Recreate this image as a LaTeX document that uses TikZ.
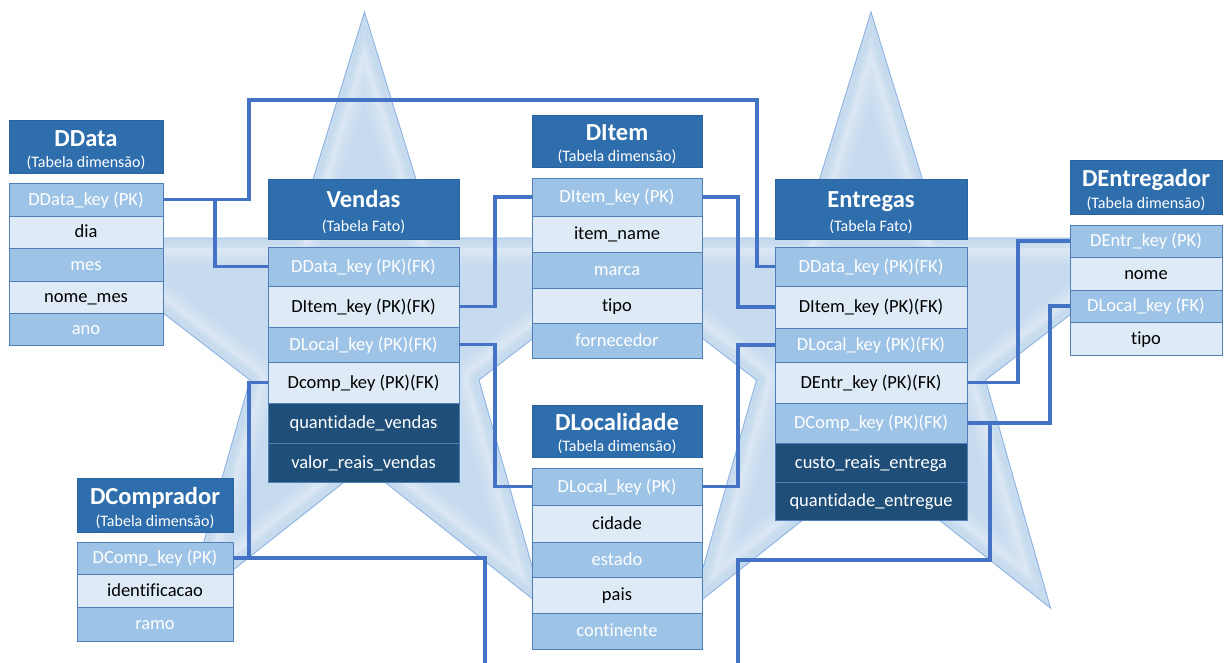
\documentclass[tikz,border=0pt]{standalone}
\usepackage{fontspec}
\setmainfont{Carlito}[Ligatures=NoCommon]
\definecolor{headblue}{HTML}{2E6EAC}
\definecolor{headedge}{HTML}{2A64A0}
\definecolor{midblue}{HTML}{9DC3E6}
\definecolor{paleblue}{HTML}{DEEBF7}
\definecolor{darkblue}{HTML}{1F4E79}
\definecolor{rowline}{HTML}{4F7FB6}
\definecolor{linkblue}{HTML}{4472C4}
\definecolor{starfill}{HTML}{C7DBEF}
\definecolor{staredge}{HTML}{8EB4E3}

% five-pointed star outline behind a fact table
\newcommand\starpath{(364.5,12) -- (434,238) -- (663,238) -- (479,380) -- (544,608)
  -- (364.5,466) -- (185,608) -- (250,380) -- (66,238) -- (295,238) -- cycle}

% table header: name, x1, y1, x2, y2, title, subtitle
\newcommand\tablehead[7]{%
  \node[headbox, minimum width={(#4-#2)*1pt}, minimum height={(#5-#3)*1pt}]
    (#1) at ({(#2+#4)/2},{(#3+#5)/2}) {};
  \node[titletxt, anchor=base] (#1-title) at ({(#2+#4)/2},{#3+0.35*(#5-#3)+7.7}) {#6};
  \node[subtxt, anchor=base] (#1-sub) at ({(#2+#4)/2},{#3+0.79*(#5-#3)+5.5}) {#7};
}
% table row: name, x1, x2, y1, y2, style, text
\newcommand\tablerow[7]{%
  \node[#6, minimum width={(#3-#2)*1pt}, minimum height={(#5-#4)*1pt}]
    (#1) at ({(#2+#3)/2},{(#4+#5)/2}) {#7};
}

\begin{document}
\begin{tikzpicture}[x=1pt,y=-1pt,
  every node/.style={inner sep=0pt, outer sep=0pt},
  headbox/.style={fill=headblue, draw=headedge, line width=0.8pt},
  titletxt/.style={text=white, font=\fontsize{24.5}{26}\selectfont\bfseries},
  subtxt/.style={text=white, font=\fontsize{16}{18}\selectfont},
  rowbase/.style={draw=rowline, line width=1pt, text height=14pt, text depth=3pt,
    font=\fontsize{18.5}{20}\selectfont},
  midrow/.style={rowbase, fill=midblue, text=white},
  palerow/.style={rowbase, fill=paleblue, text=black},
  darkrow/.style={rowbase, fill=darkblue, text=white},
  link/.style={draw=linkblue, line width=3.2pt, line join=miter},
]
\useasboundingbox (0,0) rectangle (1224,662);
\fill[white] (0,0) rectangle (1224,662);

% bevelled stars behind Vendas and Entregas: a soft pale band just inside the rim
\foreach \sx in {0,506.5} {
  \begin{scope}[xshift=\sx pt]
    \begin{scope}
      \clip \starpath;
      \fill[starfill] \starpath;
      \foreach \w/\o in {52/0.08, 44/0.10, 36/0.12, 30/0.12} {
        \draw[white, opacity=\o, line width=\w pt, line join=round] \starpath;
      }
      \draw[starfill, opacity=0.6, line width=20pt, line join=round] \starpath;
      \draw[starfill, line width=13pt, line join=round] \starpath;
    \end{scope}
    \draw[staredge, line width=0.9pt, line join=miter] \starpath;
  \end{scope}
}

% DData
\tablehead{ddata}{9}{120}{163}{173}{DData}{(Tabela dimensão)}
\tablerow{dd-1}{9}{163}{183}{216}{midrow}{DData\_key (PK)}
\tablerow{dd-2}{9}{163}{216}{248}{palerow}{dia}
\tablerow{dd-3}{9}{163}{248}{281}{midrow}{mes}
\tablerow{dd-4}{9}{163}{281}{313}{palerow}{nome\_mes}
\tablerow{dd-5}{9}{163}{313}{345}{midrow}{ano}

% Vendas
\tablehead{vendas}{268}{179}{459}{239}{Vendas}{(Tabela Fato)}
\tablerow{v-1}{268}{459}{247}{286}{midrow}{DData\_key (PK)(FK)}
\tablerow{v-2}{268}{459}{286}{327}{palerow}{DItem\_key (PK)(FK)}
\tablerow{v-3}{268}{459}{327}{362}{midrow}{DLocal\_key (PK)(FK)}
\tablerow{v-4}{268}{459}{362}{403}{palerow}{Dcomp\_key (PK)(FK)}
\tablerow{v-5}{268}{459}{403}{443}{darkrow}{quantidade\_vendas}
\tablerow{v-6}{268}{459}{443}{482}{darkrow}{valor\_reais\_vendas}

% DItem
\tablehead{ditem}{532}{115}{702}{167}{DItem}{(Tabela dimensão)}
\tablerow{di-1}{532}{702}{178}{216}{midrow}{DItem\_key (PK)}
\tablerow{di-2}{532}{702}{216}{252}{palerow}{item\_name}
\tablerow{di-3}{532}{702}{252}{288}{midrow}{marca}
\tablerow{di-4}{532}{702}{288}{323}{palerow}{tipo}
\tablerow{di-5}{532}{702}{323}{358}{midrow}{fornecedor}

% DLocalidade
\tablehead{dlocal}{532}{405}{702}{457}{DLocalidade}{(Tabela dimensão)}
\tablerow{dl-1}{532}{702}{468}{505}{midrow}{DLocal\_key (PK)}
\tablerow{dl-2}{532}{702}{505}{542}{palerow}{cidade}
\tablerow{dl-3}{532}{702}{542}{577}{midrow}{estado}
\tablerow{dl-4}{532}{702}{577}{613}{palerow}{pais}
\tablerow{dl-5}{532}{702}{613}{649}{midrow}{continente}

% Entregas
\tablehead{entregas}{775}{179}{967}{239}{Entregas}{(Tabela Fato)}
\tablerow{e-1}{775}{967}{247}{286}{midrow}{DData\_key (PK)(FK)}
\tablerow{e-2}{775}{967}{286}{328}{palerow}{DItem\_key (PK)(FK)}
\tablerow{e-3}{775}{967}{328}{362}{midrow}{DLocal\_key (PK)(FK)}
\tablerow{e-4}{775}{967}{362}{403}{palerow}{DEntr\_key (PK)(FK)}
\tablerow{e-5}{775}{967}{403}{443}{midrow}{DComp\_key (PK)(FK)}
\tablerow{e-6}{775}{967}{443}{482}{darkrow}{custo\_reais\_entrega}
\tablerow{e-7}{775}{967}{482}{520}{darkrow}{quantidade\_entregue}

% DEntregador
\tablehead{dentr}{1070}{160}{1222}{214}{DEntregador}{(Tabela dimensão)}
\tablerow{de-1}{1070}{1222}{225}{257}{midrow}{DEntr\_key (PK)}
\tablerow{de-2}{1070}{1222}{257}{290}{palerow}{nome}
\tablerow{de-3}{1070}{1222}{290}{322}{midrow}{DLocal\_key (FK)}
\tablerow{de-4}{1070}{1222}{322}{355}{palerow}{tipo}

% DComprador
\tablehead{dcomp}{77}{478}{233}{532}{DComprador}{(Tabela dimensão)}
\tablerow{dc-1}{77}{233}{542}{574}{midrow}{DComp\_key (PK)}
\tablerow{dc-2}{77}{233}{574}{607}{palerow}{identificacao}
\tablerow{dc-3}{77}{233}{607}{641}{midrow}{ramo}

% key links
\coordinate (toprun) at (757,100);
\coordinate (offL) at (485,664);
\coordinate (offR) at (738,664);
\draw[link] (dd-1.east) -- ++(52,0) |- (v-1.west);
\draw[link] (dd-1.east) -- ++(86,0) |- (toprun) |- (e-1.west);
\draw[link] (v-2.east) -- ++(36,0) |- (di-1.west);
\draw[link] (di-1.east) -- ++(36,0) |- (e-2.west);
\draw[link] (v-3.east) -- ++(36,0) |- (dl-1.west);
\draw[link] (dl-1.east) -- ++(36,0) |- (e-3.west);
\draw[link] (v-4.west) -- ++(-19,0) |- (dc-1.east);
\draw[link] (dc-1.east) -| (offL);
\draw[link] (e-4.east) -- ++(51,0) |- (de-1.west);
\draw[link] (e-5.east) -- ++(83,0) |- (de-3.west);
\draw[link] (e-5.east) -- ++(23,0) -- ++(0,137) -| (offR);
\end{tikzpicture}
\end{document}
